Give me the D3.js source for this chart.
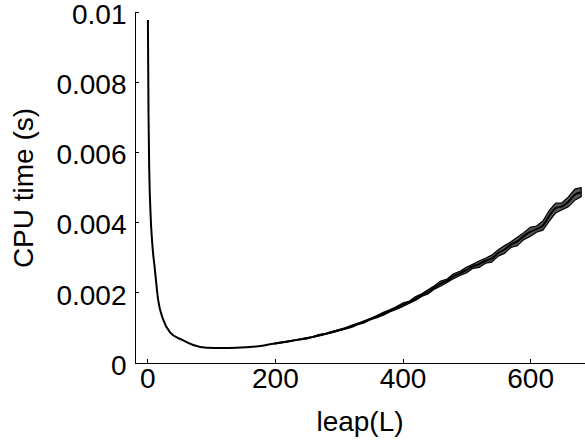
<!DOCTYPE html>
<html>
<head>
<meta charset="utf-8">
<script src="https://cdn.jsdelivr.net/npm/d3@7"></script>
<style>
  html, body { margin: 0; padding: 0; background: #fff; }
  svg { display: block; }
  .axis text { font-family: "Liberation Sans", Arial, sans-serif; font-size: 28px; fill: #000; }
  .axis path, .axis line { stroke: #000; stroke-width: 1px; shape-rendering: crispEdges; }
  .label { font-family: "Liberation Sans", Arial, sans-serif; font-size: 28px; fill: #000; }
</style>
</head>
<body>
<div id="chart"></div>
<script>
    // Data: leap L vs CPU time (s)
    var leapLow = [1, 2, 3, 5, 8, 12, 17, 25, 36, 54, 72, 93, 118, 140, 160, 180, 190];
    var cpuLow = [0.00976, 0.00700, 0.00560, 0.00430, 0.00335, 0.00264, 0.00179, 0.00122, 0.00085, 0.00065,
        0.00050, 0.00042, 0.00041, 0.00042, 0.00044, 0.00048, 0.00051];

    var leapHigh = [200, 210, 220, 230, 240, 250, 260, 270, 280, 290, 300, 310, 320, 330, 340, 350, 360, 370,
        380, 390, 400, 410, 420, 430, 440, 450, 460, 470, 480, 490, 500, 510, 520, 530, 540, 550, 560, 570,
        580, 590, 600, 610, 620, 630, 640, 650, 660, 670, 680];
    var cpuHigh = [0.00054, 0.00057, 0.00060, 0.00063, 0.00066, 0.00069, 0.00073, 0.00078, 0.00082, 0.00087,
        0.00092, 0.00097, 0.00103, 0.00110, 0.00116, 0.00124, 0.00131, 0.00139, 0.00147, 0.00155,
        0.00164, 0.00171, 0.00182, 0.00192, 0.00201, 0.00214, 0.00225, 0.00233, 0.00246, 0.00254,
        0.00263, 0.00274, 0.00280, 0.00290, 0.00296, 0.00312, 0.00322, 0.00336, 0.00345, 0.00360,
        0.00372, 0.00380, 0.00390, 0.00418, 0.00440, 0.00445, 0.00458, 0.00478, 0.00485];
    // half width of the spread between runs
    var spreadHigh = [0.00001, 0.00001, 0.00001, 0.00001, 0.00001, 0.00002, 0.00001, 0.00002, 0.00001, 0.00002,
        0.00002, 0.00002, 0.00003, 0.00002, 0.00003, 0.00002, 0.00003, 0.00004, 0.00003, 0.00004,
        0.00005, 0.00003, 0.00005, 0.00004, 0.00006, 0.00005, 0.00007, 0.00005, 0.00007, 0.00006,
        0.00008, 0.00006, 0.00009, 0.00007, 0.00010, 0.00009, 0.00011, 0.00008, 0.00012, 0.00010,
        0.00013, 0.00009, 0.00013, 0.00015, 0.00014, 0.00010, 0.00014, 0.00016, 0.00013];

    var xTicks = [0, 200, 400, 600];
    var yTicks = [0, 0.002, 0.004, 0.006, 0.008, 0.01];
    var yTickLabels = ["0", "0.002", "0.004", "0.006", "0.008", "0.01"];

    // Build series
    var meanLine = leapLow.map(function(l, i) { return { l: l, v: cpuLow[i] }; })
        .concat(leapHigh.map(function(l, i) { return { l: l, v: cpuHigh[i] }; }));
    var band = leapHigh.map(function(l, i) {
        return { l: l, lo: cpuHigh[i] - spreadHigh[i], hi: cpuHigh[i] + spreadHigh[i] };
    });

    var width = 585, height = 445;
    var svg = d3.select("#chart").append("svg").attr("width", width).attr("height", height);

    var xScale = d3.scaleLinear().domain([-20, 686]).range([134.5, 585]);
    var yScale = d3.scaleLinear().domain([0, 0.01]).range([362.5, 11.5]);

    // Axes (ticks point inward)
    var xAxis = svg.append("g").attr("class", "axis")
        .attr("transform", "translate(0," + yScale(0) + ")")
        .call(d3.axisBottom(xScale).tickValues(xTicks).tickSizeInner(-4).tickSizeOuter(0).tickPadding(8)
            .tickFormat(function(d) { return d; }));
    xAxis.selectAll("text").attr("dy", "0.64em");

    var yAxis = svg.append("g").attr("class", "axis")
        .attr("transform", "translate(" + xScale(-20) + ",0)")
        .call(d3.axisLeft(yScale).tickValues(yTicks).tickSizeInner(-4).tickSizeOuter(0).tickPadding(8)
            .tickFormat(function(d, i) { return yTickLabels[i]; }));
    yAxis.selectAll("text").attr("dy", "0.42em");

    // Spread band
    var area = d3.area()
        .x(function(d) { return xScale(d.l); })
        .y0(function(d) { return yScale(d.lo); })
        .y1(function(d) { return yScale(d.hi); });
    svg.append("path").datum(band)
        .attr("d", area)
        .attr("fill", "#555")
        .attr("stroke", "#000")
        .attr("stroke-width", 1.2)
        .attr("stroke-linejoin", "round");

    // Mean curve
    var line = d3.line()
        .x(function(d) { return xScale(d.l); })
        .y(function(d) { return yScale(d.v); })
        .curve(d3.curveMonotoneX);
    svg.append("path").datum(meanLine)
        .attr("d", line)
        .attr("fill", "none")
        .attr("stroke", "#000")
        .attr("stroke-width", 2)
        .attr("stroke-linejoin", "round");

    // Labels
    svg.append("text").attr("class", "label")
        .attr("x", 360).attr("y", 431)
        .attr("text-anchor", "middle")
        .text("leap(L)");
    svg.append("text").attr("class", "label")
        .attr("transform", "translate(33,188) rotate(-90)")
        .attr("text-anchor", "middle")
        .text("CPU time (s)");
</script>
</body>
</html>
